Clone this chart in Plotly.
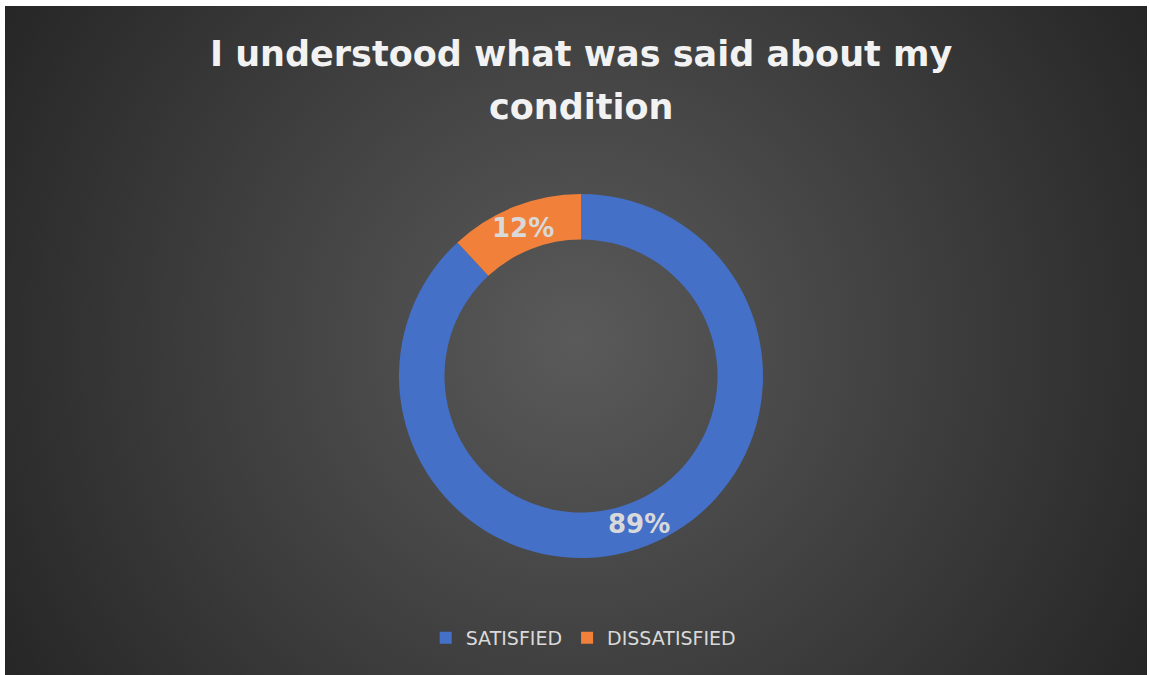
import base64
import math
import plotly.graph_objects as go

# Survey result
categories = ["SATISFIED", "DISSATISFIED"]
percentages = [89, 12]
slice_colors = ["#4470c8", "#f0803a"]
title_lines = ["I understood what was said about my", "condition"]

W, H = 1149, 675

# Ring geometry in pixels
CX, CY = 581, 376
R_OUT = 182
HOLE = 0.75

# Dark radial-gradient card behind the chart
card_w, card_h = 1142, 669
bg_svg = f"""<svg xmlns='http://www.w3.org/2000/svg' width='{card_w}' height='{card_h}'>
<defs><radialGradient id='g' gradientUnits='userSpaceOnUse' cx='{card_w/2}' cy='{card_h/2}' r='662'>
<stop offset='0' stop-color='#5a5a5a'/><stop offset='1' stop-color='#262626'/></radialGradient></defs>
<rect width='{card_w}' height='{card_h}' fill='url(#g)'/></svg>"""
bg_uri = "data:image/svg+xml;base64," + base64.b64encode(bg_svg.encode()).decode()

fig = go.Figure(
    go.Pie(
        labels=categories,
        values=percentages,
        marker=dict(colors=slice_colors, line=dict(width=0)),
        hole=HOLE,
        sort=False,
        direction="clockwise",
        rotation=0,
        textinfo="none",
        domain=dict(x=[(CX - R_OUT) / W, (CX + R_OUT) / W],
                    y=[1 - (CY + R_OUT) / H, 1 - (CY - R_OUT) / H]),
        hoverinfo="label+value",
    )
)

# Value labels at the middle of each ring segment, kept horizontal
label_font = dict(family="DejaVu Sans", size=26, color="#d9d9d9", weight="bold")
total = sum(percentages)
r_mid = R_OUT * (1 + HOLE) / 2
acc = 0
for v in percentages:
    ang = (acc + v / 2) / total * 2 * math.pi
    acc += v
    fig.add_annotation(
        text=f"{v}%", xref="paper", yref="paper",
        x=(CX + r_mid * math.sin(ang)) / W, y=1 - (CY - r_mid * math.cos(ang)) / H,
        xanchor="center", yanchor="middle", showarrow=False, font=label_font,
    )

fig.add_layout_image(
    source=bg_uri, xref="paper", yref="paper",
    x=5 / W, y=1 - 6 / H, sizex=card_w / W, sizey=card_h / H,
    xanchor="left", yanchor="top", sizing="stretch", layer="below",
)

title_font = dict(family="DejaVu Sans", size=35, color="#f2f2f2", weight="bold")
for i, line in enumerate(title_lines):
    fig.add_annotation(
        text=line, xref="paper", yref="paper", x=0.5055, y=1 - (54 + 53 * i) / H,
        xanchor="center", yanchor="middle", showarrow=False, font=title_font,
    )

fig.update_layout(
    width=W, height=H, autosize=False,
    margin=dict(l=0, r=0, t=0, b=0),
    paper_bgcolor="white", plot_bgcolor="rgba(0,0,0,0)",
    legend=dict(
        orientation="h", x=0.508, xanchor="center", y=1 - 638 / H, yanchor="middle",
        font=dict(family="DejaVu Sans", size=19, color="#d9d9d9"),
        bgcolor="rgba(0,0,0,0)", itemwidth=30,
    ),
)

fig.write_html("out.html")
